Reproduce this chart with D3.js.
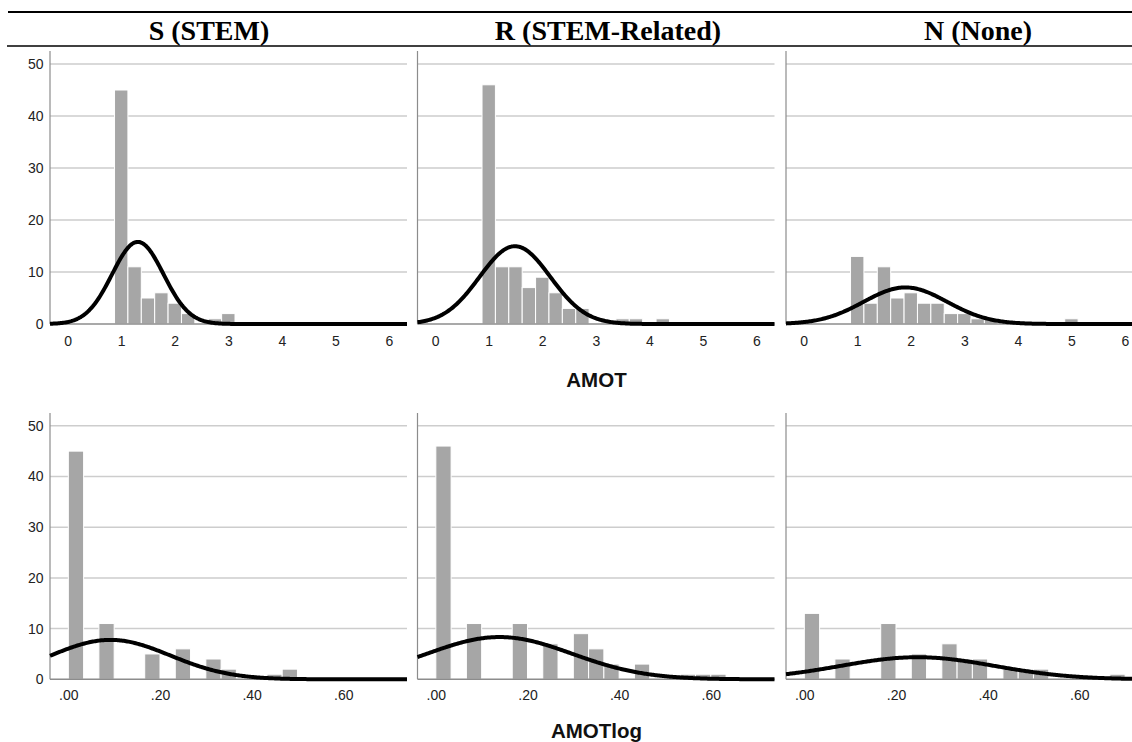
<!DOCTYPE html>
<html>
<head>
<meta charset="utf-8">
<script src="https://cdn.jsdelivr.net/npm/d3@7"></script>
<style>
  body { margin: 0; background: #fff; }
  svg { display: block; }
</style>
</head>
<body>
<svg id="chart" width="1132" height="742"></svg>
<script>
// ---- Data -------------------------------------------------------------
const groupTitles = ["S (STEM)", "R (STEM-Related)", "N (None)"];

// AMOT histogram (bin width 0.25): bin centres and counts per group
const amotCentersS = [1, 1.25, 1.5, 1.75, 2, 2.25, 2.75, 3];
const amotCountsS  = [45, 11, 5, 6, 4, 2, 1, 2];
const amotCentersR = [1, 1.25, 1.5, 1.75, 2, 2.25, 2.5, 2.75, 3.5, 3.75, 4.25];
const amotCountsR  = [46, 11, 11, 7, 9, 6, 3, 3, 1, 1, 1];
const amotCentersN = [1, 1.25, 1.5, 1.75, 2, 2.25, 2.5, 2.75, 3, 3.25, 3.5, 5];
const amotCountsN  = [13, 4, 11, 5, 6, 4, 4, 2, 2, 1, 1, 1];

// AMOTlog histogram (bin width 1/30): bin index (lower edge = index/30) and counts
const logBinsS   = [0, 2, 5, 7, 9, 10, 13, 14];
const logCountsS = [45, 11, 5, 6, 4, 2, 1, 2];
const logBinsR   = [0, 2, 5, 7, 9, 10, 11, 13, 16, 17, 18];
const logCountsR = [46, 11, 11, 7, 9, 6, 3, 3, 1, 1, 1];
const logBinsN   = [0, 2, 5, 7, 9, 10, 11, 13, 14, 15, 20];
const logCountsN = [13, 4, 11, 5, 7, 4, 4, 2, 2, 2, 1];

// Normal-curve parameters per group (S, R, N)
const groupN   = [76, 99, 55];
const amotMean = [1.31, 1.49, 1.90];
const amotSD   = [0.48, 0.66, 0.78];
const logMean  = [0.092, 0.139, 0.247];
const logSD    = [0.130, 0.158, 0.168];

// Axis ticks
const countTicks = [0, 10, 20, 30, 40, 50];
const amotTicks  = [0, 1, 2, 3, 4, 5, 6];
const logTicks   = [0, 0.2, 0.4, 0.6];

// ---- Layout -----------------------------------------------------------
const svg = d3.select("#chart");
const colLeft = [50, 417.5, 786];
const panelW = 357;
const yMax = 52.5;

const amotBins = [
  {c: amotCentersS, n: amotCountsS},
  {c: amotCentersR, n: amotCountsR},
  {c: amotCentersN, n: amotCountsN}
];
const logBinsAll = [
  {c: logBinsS, n: logCountsS},
  {c: logBinsR, n: logCountsR},
  {c: logBinsN, n: logCountsN}
];

const rows = [
  {
    base: 324, top: 51, domain: [-0.33, 6.337], binW: 0.25,
    ticks: amotTicks, fmt: d => String(d), pad: 12.5,
    bars: g => amotBins[g].c.map((c, i) => ({lo: c - 0.125, hi: c + 0.125, v: amotBins[g].n[i]})),
    mean: amotMean, sd: amotSD,
    title: "AMOT", titleY: 386.7
  },
  {
    base: 679.3, top: 413.1, domain: [-0.04, 0.739], binW: 1 / 30,
    ticks: logTicks, fmt: d => d3.format(".2f")(d).replace(/^0/, ""), pad: 10.5,
    bars: g => logBinsAll[g].c.map((k, i) => ({lo: k / 30, hi: (k + 1) / 30, v: logBinsAll[g].n[i]})),
    mean: logMean, sd: logSD,
    title: "AMOTlog", titleY: 738
  }
];

const normalPdf = (x, m, s) => Math.exp(-0.5 * ((x - m) / s) ** 2) / (s * Math.sqrt(2 * Math.PI));

rows.forEach((row, ri) => {
  const y = d3.scaleLinear().domain([0, yMax]).range([row.base, row.top]);

  colLeft.forEach((left, g) => {
    const x = d3.scaleLinear().domain(row.domain).range([left, left + panelW]);
    const panel = svg.append("g");

    // horizontal gridlines
    panel.selectAll("line.grid")
      .data(countTicks.filter(t => t > 0))
      .join("line")
      .attr("x1", left).attr("x2", left + panelW)
      .attr("y1", d => y(d)).attr("y2", d => y(d))
      .attr("stroke", "#cdcdcd").attr("stroke-width", 1.5);

    // vertical axis line
    panel.append("line")
      .attr("x1", left).attr("x2", left)
      .attr("y1", y(0)).attr("y2", y(yMax))
      .attr("stroke", "#8c8c8c").attr("stroke-width", 1.2);

    // histogram bars
    panel.selectAll("rect.bar")
      .data(row.bars(g))
      .join("rect")
      .attr("x", d => x(d.lo))
      .attr("width", d => x(d.hi) - x(d.lo))
      .attr("y", d => y(d.v))
      .attr("height", d => y(0) - y(d.v))
      .attr("fill", "#a6a6a6")
      .attr("stroke", "#ffffff").attr("stroke-width", 1);

    // baseline
    panel.append("line")
      .attr("x1", left).attr("x2", left + panelW)
      .attr("y1", y(0)).attr("y2", y(0))
      .attr("stroke", "#8c8c8c").attr("stroke-width", 1.5);

    // fitted normal curve, scaled to counts per bin
    const m = row.mean[g], s = row.sd[g], n = groupN[g];
    const xs = d3.range(0, 301).map(i => row.domain[0] + (row.domain[1] - row.domain[0]) * i / 300);
    const line = d3.line()
      .x(d => x(d))
      .y(d => y(n * row.binW * normalPdf(d, m, s)))
      .curve(d3.curveLinear);
    panel.append("path")
      .datum(xs)
      .attr("d", line)
      .attr("fill", "none")
      .attr("stroke", "#000")
      .attr("stroke-width", 4)
      .attr("stroke-linejoin", "round");

    // x axis labels
    const xAxis = panel.append("g")
      .attr("transform", `translate(0,${row.base})`)
      .call(d3.axisBottom(x).tickValues(row.ticks).tickSize(0).tickPadding(row.pad).tickFormat(row.fmt));
    xAxis.select(".domain").remove();
    xAxis.selectAll("text")
      .attr("font-family", "'Liberation Sans', Arial, sans-serif")
      .attr("font-size", 14).attr("fill", "#222");

    // y axis labels on the first column only
    if (g === 0) {
      const yAxis = panel.append("g")
        .attr("transform", `translate(${left},0)`)
        .call(d3.axisLeft(y).tickValues(countTicks).tickSize(0).tickPadding(6.5));
      yAxis.select(".domain").remove();
      yAxis.selectAll("text")
        .attr("font-family", "'Liberation Sans', Arial, sans-serif")
        .attr("font-size", 14).attr("fill", "#222");
    }
  });

  // row axis title
  svg.append("text")
    .attr("x", 596.5).attr("y", row.titleY)
    .attr("text-anchor", "middle")
    .attr("font-family", "'Liberation Sans', Arial, sans-serif")
    .attr("font-weight", "bold")
    .attr("font-size", 20.5)
    .attr("fill", "#111")
    .text(row.title);
});

// ---- Column headers -----------------------------------------------------
svg.append("line")
  .attr("x1", 8).attr("x2", 1132).attr("y1", 12).attr("y2", 12)
  .attr("stroke", "#000").attr("stroke-width", 2);
svg.append("line")
  .attr("x1", 7).attr("x2", 1132).attr("y1", 46).attr("y2", 46)
  .attr("stroke", "#000").attr("stroke-width", 1.3);

const headerX = [209, 608, 978];
svg.selectAll("text.header")
  .data(groupTitles)
  .join("text")
  .attr("class", "header")
  .attr("x", (d, i) => headerX[i])
  .attr("y", 39.5)
  .attr("text-anchor", "middle")
  .attr("font-family", "'Liberation Serif', 'Times New Roman', serif")
  .attr("font-weight", "bold")
  .attr("font-size", 28)
  .attr("fill", "#000")
  .text(d => d);
</script>
</body>
</html>
